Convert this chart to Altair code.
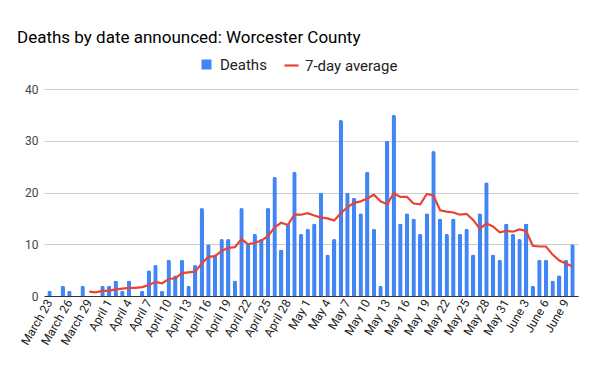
import altair as alt
import pandas as pd

days = (
    ["March %d" % d for d in range(23, 32)]
    + ["April %d" % d for d in range(1, 31)]
    + ["May %d" % d for d in range(1, 32)]
    + ["June %d" % d for d in range(1, 11)]
)

deaths = [1, 0, 2, 1, 0, 2, 0, 0, 2, 2,
          3, 1, 3, 0, 1, 5, 6, 1, 7, 4,
          7, 2, 6, 17, 10, 8, 11, 11, 3, 17,
          10, 12, 11, 17, 23, 9, 14, 24, 12, 13,
          14, 20, 8, 11, 34, 20, 19, 16, 24, 13,
          2, 30, 35, 14, 16, 15, 12, 16, 28, 15,
          12, 15, 12, 13, 8, 16, 22, 8, 7, 14,
          12, 11, 14, 2, 7, 7, 3, 4, 7, 10]

avg7 = [None] * 6 + [
    0.86, 0.71, 1.0, 1.0, 1.29, 1.43, 1.57, 1.57, 1.71, 2.14,
    2.71, 2.43, 3.29, 3.43, 4.43, 4.57, 4.71, 6.29, 7.57, 7.71,
    8.71, 9.29, 9.43, 11.0, 10.0, 10.29, 10.71, 11.57, 13.29, 14.14,
    13.71, 15.71, 15.71, 16.0, 15.57, 15.14, 15.0, 14.57, 16.0, 17.14,
    18.0, 18.29, 18.86, 19.57, 18.29, 17.71, 19.86, 19.14, 19.14, 17.86,
    17.71, 19.71, 19.43, 16.57, 16.29, 16.14, 15.71, 15.86, 14.71, 13.0,
    14.0, 13.43, 12.29, 12.57, 12.43, 12.86, 12.57, 9.71, 9.57, 9.57,
    8.0, 6.86, 6.29, 5.71]

tick_labels = days[::3]
y_ticks = [0, 10, 20, 30, 40]

df = pd.DataFrame({
    "day": days,
    "deaths": deaths,
    "avg": avg7,
    "s1": "Deaths",
    "s2": "7-day average",
})

FONT = "Roboto"

x = alt.X(
    "day:N",
    sort=days,
    scale=alt.Scale(paddingInner=0.33, paddingOuter=0.5),
    axis=alt.Axis(
        values=tick_labels, labelAngle=-60, title=None, ticks=False,
        domainColor="#333333", labelFont=FONT, labelFontSize=12,
        labelColor="#222222", labelPadding=4, labelOverlap=False, grid=False,
    ),
)

y_axis = alt.Axis(
    values=y_ticks, title=None, ticks=False, domain=False,
    gridColor="#cccccc", labelFont=FONT, labelFontSize=12,
    labelColor="#444444", labelPadding=6,
)

bars = alt.Chart(df).mark_bar(cornerRadiusEnd=2).encode(
    x=x,
    y=alt.Y("deaths:Q", scale=alt.Scale(domain=[0, 40]), axis=y_axis),
    fill=alt.Fill(
        "s1:N",
        scale=alt.Scale(domain=["Deaths"], range=["#4285F4"]),
        legend=alt.Legend(
            title=None, orient="none", legendX=155, legendY=-32,
            symbolType="square", symbolSize=100, labelFont=FONT,
            labelFontSize=15, labelColor="#222222", labelOffset=6,
        ),
    ),
)

line = alt.Chart(df).mark_line(strokeWidth=2.2).encode(
    x=x,
    y=alt.Y("avg:Q"),
    stroke=alt.Stroke(
        "s2:N",
        scale=alt.Scale(domain=["7-day average"], range=["#EA4335"]),
        legend=alt.Legend(
            title=None, orient="none", legendX=239, legendY=-32,
            symbolType="stroke", symbolSize=200, symbolStrokeWidth=2.2,
            labelFont=FONT, labelFontSize=15, labelColor="#222222",
            labelOffset=5,
        ),
    ),
)

chart = (
    alt.layer(bars, line)
    .properties(
        width=534,
        height=207,
        autosize=alt.AutoSizeParams(type="none"),
        padding={"left": 36, "top": 81, "right": 10, "bottom": 64},
        title=alt.TitleParams(
            "Deaths by date announced: Worcester County",
            anchor="start", frame="group", font=FONT, fontSize=17,
            fontWeight="normal", color="#000000", dx=-27, offset=10,
        ),
    )
    .configure_view(stroke=None)
)

chart.save("out.html", embed_options={"renderer": "svg", "actions": False})
